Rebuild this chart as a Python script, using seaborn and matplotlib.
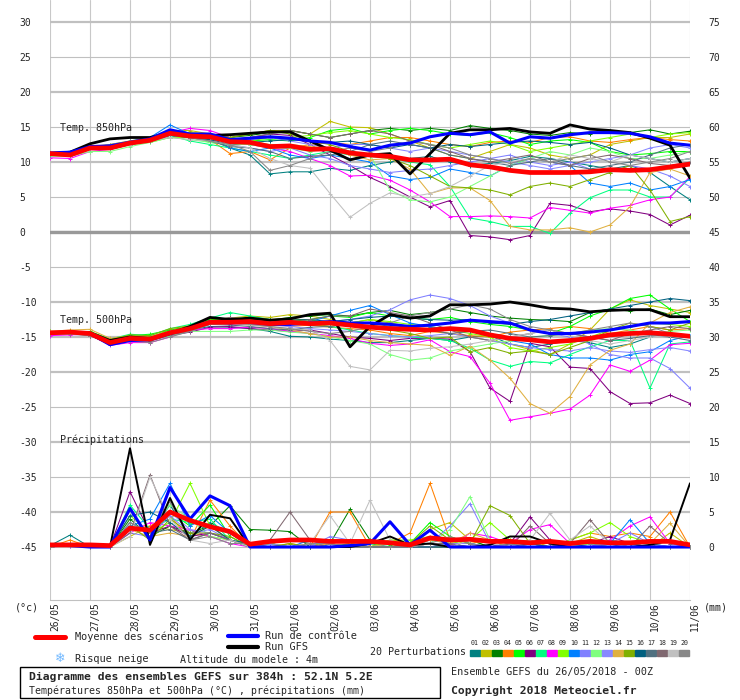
import seaborn as sns
import matplotlib.pyplot as plt
import pandas as pd
from matplotlib.lines import Line2D
from matplotlib.patches import Rectangle
from matplotlib.transforms import ScaledTranslation

# time axis: 12h steps over the 384h run
hours = list(range(0, 385, 12))
dates = ["26/05", "27/05", "28/05", "29/05", "30/05", "31/05", "01/06", "02/06", "03/06",
         "04/06", "05/06", "06/06", "07/06", "08/06", "09/06", "10/06", "11/06"]
members = ["%02d" % k for k in range(1, 21)]
pert_colors = ["#008080", "#c0c000", "#008000", "#ff8000", "#00ff00", "#800080",
               "#00ff80", "#ff00ff", "#80ff00", "#0080ff", "#8080ff", "#80ff80",
               "#8888ff", "#e0b040", "#80b000", "#006080", "#507080", "#806870",
               "#c0c0c0", "#888888"]

# ---- 850 hPa temperature (C)
mean_850 = [11.2, 11.0, 12.0, 12.0, 12.7, 13.1, 14.1, 13.7, 13.6, 12.9, 12.8,
            12.2, 12.3, 11.8, 11.9, 11.3, 11.0, 10.8, 10.3, 10.3, 10.4, 9.6,
            9.3, 8.8, 8.5, 8.5, 8.5, 8.6, 8.9, 8.8, 8.9, 9.3, 9.7]
ctrl_850 = [11.3, 11.4, 12.2, 12.3, 12.8, 13.3, 14.6, 14.0, 14.0, 13.2, 13.4,
            13.6, 13.4, 13.0, 12.8, 12.2, 11.7, 12.4, 12.7, 13.6, 14.1, 13.9,
            14.3, 12.7, 13.6, 13.4, 13.9, 14.2, 14.2, 14.1, 13.6, 12.7, 12.4]
gfs_850 = [11.2, 11.4, 12.6, 13.3, 13.5, 13.5, 14.2, 13.8, 13.8, 13.9, 14.1,
           14.3, 14.3, 13.0, 11.7, 10.3, 11.0, 11.2, 8.3, 11.2, 14.1, 14.6,
           14.6, 14.8, 14.3, 14.1, 15.3, 14.7, 14.5, 14.2, 13.4, 12.4, 7.7]
pert_850 = [
    [11.0, 10.8, 11.8, 11.8, 12.5, 13.0, 14.0, 13.5, 13.2, 12.0, 11.0, 8.3, 8.6, 8.6, 9.1, 8.8, 9.5, 10.0, 10.5, 10.8, 10.0, 9.5, 9.8, 10.2, 10.8, 10.5, 10.0, 9.5, 9.0, 9.5, 8.5, 6.5, 4.6],
    [11.3, 11.2, 12.2, 12.5, 13.0, 13.5, 14.5, 14.5, 14.0, 13.5, 14.0, 14.5, 14.5, 14.0, 15.8, 15.0, 14.9, 14.0, 13.0, 12.0, 11.0, 10.5, 11.5, 12.5, 12.0, 11.0, 10.5, 11.0, 12.5, 13.0, 13.5, 13.5, 14.0],
    [11.0, 11.2, 12.0, 12.2, 12.8, 13.2, 14.3, 14.0, 13.8, 13.5, 13.8, 14.2, 14.5, 14.0, 13.5, 14.0, 14.5, 14.8, 14.5, 14.8, 14.5, 15.2, 14.8, 14.5, 14.0, 13.8, 14.2, 14.0, 14.5, 14.2, 14.6, 14.0, 14.4],
    [11.2, 11.0, 12.0, 12.0, 12.6, 13.0, 14.0, 13.6, 13.2, 11.2, 11.5, 10.3, 12.0, 12.5, 12.8, 12.5, 13.0, 13.5, 13.5, 13.0, 12.5, 12.2, 12.8, 13.0, 12.8, 13.5, 13.6, 13.0, 12.8, 13.2, 13.5, 13.2, 13.0],
    [11.0, 11.2, 12.2, 12.0, 12.5, 13.0, 14.2, 13.5, 12.8, 12.5, 13.0, 13.2, 13.0, 13.5, 14.5, 14.8, 14.0, 14.5, 14.8, 14.5, 14.0, 13.8, 14.2, 13.5, 12.5, 13.0, 13.2, 12.8, 11.5, 11.0, 11.2, 11.5, 11.5],
    [11.0, 10.8, 11.8, 12.0, 12.5, 13.0, 13.5, 13.5, 13.5, 13.0, 13.5, 14.0, 13.8, 12.5, 11.0, 9.5, 7.8, 6.5, 5.0, 3.6, 4.5, -0.5, -0.7, -1.1, -0.5, 4.1, 3.8, 2.9, 3.3, 3.0, 2.5, 1.0, 2.4],
    [11.0, 11.0, 11.8, 11.8, 12.5, 13.0, 13.8, 13.0, 12.5, 12.0, 11.5, 11.0, 10.5, 11.0, 11.5, 11.0, 10.8, 10.5, 10.0, 9.6, 6.5, 2.0, 1.5, 0.8, 0.8, -0.2, 2.7, 4.9, 6.0, 6.0, 5.0, 5.0, 7.7],
    [10.6, 10.5, 11.5, 11.8, 12.5, 13.2, 14.2, 14.8, 14.5, 13.5, 12.5, 12.0, 11.5, 10.5, 9.5, 8.0, 8.1, 7.4, 6.0, 4.3, 2.2, 2.2, 2.3, 2.2, 2.0, 3.5, 3.1, 2.7, 3.4, 3.8, 4.6, 5.0, 7.9],
    [11.0, 11.2, 11.8, 12.0, 12.5, 12.8, 13.5, 13.5, 13.0, 12.5, 13.0, 13.5, 13.5, 13.8, 14.2, 14.5, 14.0, 13.5, 13.2, 12.5, 12.0, 12.5, 13.0, 12.5, 11.5, 12.0, 12.5, 13.0, 13.5, 14.0, 13.5, 14.0, 14.2],
    [11.0, 11.2, 12.0, 12.2, 13.0, 13.5, 15.3, 14.0, 13.5, 12.0, 11.5, 12.0, 11.0, 10.5, 11.0, 10.5, 10.0, 8.0, 7.5, 7.8, 9.0, 8.5, 8.0, 9.5, 10.5, 10.0, 9.5, 7.0, 6.5, 7.0, 6.0, 6.5, 7.5],
    [11.0, 11.0, 11.8, 12.0, 12.5, 13.0, 14.0, 13.5, 13.0, 12.5, 12.0, 11.5, 12.0, 11.0, 10.5, 9.5, 9.0, 8.5, 8.8, 9.0, 9.5, 10.0, 10.5, 11.0, 10.0, 9.5, 10.0, 9.0, 8.5, 9.5, 9.0, 8.0, 6.5],
    [10.8, 10.8, 11.5, 11.5, 12.2, 12.8, 13.5, 13.2, 12.8, 12.5, 12.5, 12.0, 12.0, 11.5, 12.0, 11.5, 11.0, 6.0, 4.6, 4.3, 5.0, 6.5, 8.0, 9.5, 10.5, 11.5, 11.0, 12.0, 11.5, 10.5, 10.5, 11.0, 11.5],
    [11.0, 11.0, 12.0, 12.0, 12.6, 13.0, 14.0, 13.8, 13.5, 13.0, 13.2, 13.5, 13.0, 12.5, 12.0, 12.5, 12.5, 12.0, 11.5, 12.0, 11.5, 11.0, 10.5, 10.0, 9.5, 9.0, 9.5, 10.0, 10.5, 11.0, 12.0, 12.5, 12.0],
    [11.2, 11.0, 12.0, 12.2, 12.8, 13.2, 14.0, 13.8, 13.5, 13.0, 13.0, 12.5, 12.5, 12.2, 12.0, 11.0, 10.3, 10.5, 9.0, 5.5, 6.3, 6.3, 4.5, 0.8, 0.3, 0.3, 0.6, 0.0, 1.0, 3.6, 8.5, 9.0, 8.0],
    [11.0, 11.2, 12.0, 12.2, 12.8, 13.2, 14.0, 14.2, 14.0, 13.5, 14.0, 14.5, 14.0, 13.0, 12.5, 11.5, 11.0, 10.5, 9.5, 8.0, 6.5, 6.3, 6.0, 5.3, 6.5, 7.0, 6.5, 7.5, 8.5, 9.5, 6.0, 1.5, 2.2],
    [11.2, 11.0, 12.0, 12.0, 12.6, 13.0, 13.8, 13.5, 13.2, 12.5, 12.8, 13.0, 13.2, 13.0, 12.8, 13.0, 12.5, 12.0, 12.5, 12.0, 12.5, 12.2, 12.5, 12.8, 13.0, 12.8, 12.5, 12.8, 12.0, 11.0, 10.5, 10.0, 10.5],
    [11.0, 11.0, 11.8, 12.0, 12.5, 13.0, 13.8, 13.5, 13.0, 12.2, 12.0, 11.5, 10.5, 10.8, 11.0, 11.5, 12.5, 13.0, 12.5, 12.0, 11.0, 10.5, 10.0, 9.5, 10.0, 10.5, 9.5, 9.0, 9.5, 10.0, 11.0, 12.0, 12.5],
    [11.2, 11.2, 12.0, 12.2, 12.8, 13.2, 14.0, 13.8, 13.5, 13.2, 13.5, 14.0, 14.5, 14.0, 13.5, 14.0, 14.5, 14.0, 13.0, 12.5, 11.5, 10.5, 10.0, 10.5, 11.0, 10.0, 9.5, 10.5, 11.0, 10.5, 9.8, 9.5, 10.0],
    [11.0, 11.0, 11.8, 12.0, 12.5, 13.0, 13.5, 13.2, 13.0, 12.5, 12.0, 10.5, 9.5, 9.1, 5.5, 2.1, 4.1, 5.6, 5.0, 5.5, 6.5, 8.0, 9.5, 10.0, 10.5, 10.0, 11.0, 10.5, 10.0, 11.0, 10.5, 10.0, 10.5],
    [11.0, 11.0, 12.0, 12.5, 13.0, 13.0, 14.0, 13.5, 13.0, 12.5, 11.5, 8.8, 9.5, 10.5, 11.5, 12.0, 11.5, 12.0, 13.0, 12.5, 12.0, 11.0, 10.5, 9.8, 10.5, 10.0, 10.5, 11.0, 10.0, 9.5, 10.0, 10.5, 11.5],
]

# ---- 500 hPa temperature (C)
mean_500 = [-14.4, -14.3, -14.5, -15.8, -15.2, -15.3, -14.4, -13.8, -12.9, -12.9, -12.8,
            -13.1, -12.9, -13.1, -13.0, -13.3, -13.6, -13.8, -13.9, -14.0, -13.8, -14.0,
            -14.7, -15.2, -15.4, -15.7, -15.5, -15.2, -14.7, -14.5, -14.4, -14.6, -14.9]
ctrl_500 = [-14.4, -14.3, -14.5, -16.1, -15.5, -15.4, -14.5, -13.8, -12.8, -13.0, -12.9,
            -13.2, -13.2, -13.0, -12.8, -13.0, -13.0, -13.2, -13.5, -13.3, -13.0, -12.6,
            -12.8, -13.0, -14.0, -14.5, -14.5, -14.3, -14.0, -13.5, -13.0, -13.0, -12.8]
gfs_500 = [-14.4, -14.3, -14.4, -15.5, -15.0, -15.2, -14.5, -13.5, -12.2, -12.5, -12.3,
           -12.6, -12.4, -11.8, -11.6, -16.4, -13.5, -11.8, -12.3, -12.0, -10.4, -10.4,
           -10.3, -10.0, -10.4, -10.9, -11.0, -11.4, -11.2, -11.1, -11.1, -12.1, -12.1]
pert_500 = [
    [-14.3, -14.2, -14.4, -15.5, -15.0, -15.0, -14.5, -14.0, -13.5, -13.6, -13.8, -14.2, -14.9, -15.0, -15.3, -15.5, -15.8, -15.8, -15.5, -15.2, -15.5, -15.0, -14.8, -16.0, -16.5, -16.0, -15.5, -15.8, -16.5, -16.0, -15.0, -14.5, -15.0],
    [-14.5, -14.2, -14.3, -15.5, -14.8, -15.0, -14.0, -13.5, -12.5, -12.3, -12.0, -12.2, -11.8, -12.0, -12.5, -13.0, -12.5, -13.0, -13.5, -14.0, -14.5, -15.0, -15.5, -16.0, -16.8, -17.5, -16.0, -14.0, -11.0, -9.7, -10.5, -11.0, -11.5],
    [-14.4, -14.3, -14.6, -15.5, -15.0, -15.2, -14.3, -13.5, -12.5, -12.3, -12.5, -12.6, -12.2, -12.0, -11.8, -12.0, -11.5, -11.2, -11.8, -11.5, -11.0, -11.5, -12.0, -12.3, -12.5, -12.6, -12.8, -11.5, -11.0, -11.3, -11.0, -11.8, -11.2],
    [-14.5, -14.4, -14.8, -16.0, -15.3, -15.4, -14.5, -13.8, -13.0, -13.0, -13.2, -13.0, -13.5, -13.3, -13.6, -13.8, -14.0, -14.5, -14.8, -14.2, -14.5, -14.8, -15.0, -14.3, -14.0, -13.8, -13.5, -13.8, -14.5, -14.0, -13.5, -14.0, -13.8],
    [-14.2, -14.3, -14.2, -15.3, -14.8, -14.6, -14.0, -13.5, -12.5, -12.6, -12.2, -12.5, -12.8, -12.5, -12.0, -12.2, -11.5, -12.0, -12.3, -12.5, -12.2, -12.8, -13.2, -13.5, -14.0, -14.5, -13.5, -12.0, -11.0, -9.5, -9.0, -11.0, -12.8],
    [-14.6, -14.5, -14.8, -16.0, -15.3, -15.5, -14.8, -14.3, -13.6, -13.5, -13.8, -14.0, -14.2, -14.0, -14.5, -15.0, -15.2, -15.5, -15.2, -15.2, -15.3, -17.1, -22.3, -24.2, -15.9, -16.4, -19.3, -19.5, -22.8, -24.5, -24.4, -23.3, -24.5],
    [-14.3, -14.2, -14.3, -15.3, -14.6, -14.8, -13.8, -13.2, -12.3, -11.5, -12.0, -12.5, -12.8, -13.0, -13.5, -14.0, -14.5, -14.8, -15.0, -15.2, -15.5, -16.6, -18.3, -19.2, -18.5, -18.7, -17.5, -16.4, -15.5, -15.5, -22.3, -16.0, -15.7],
    [-14.8, -14.7, -14.6, -16.2, -15.8, -15.8, -15.0, -14.0, -13.8, -13.8, -13.6, -13.8, -14.2, -14.5, -14.8, -15.2, -15.9, -16.2, -16.0, -15.4, -17.1, -17.8, -21.6, -26.9, -26.4, -25.9, -25.3, -23.3, -19.0, -19.9, -18.3, -16.1, -15.9],
    [-14.3, -14.2, -14.4, -15.5, -15.0, -15.0, -14.2, -13.6, -12.8, -12.8, -12.6, -12.5, -12.8, -13.2, -13.5, -13.0, -12.5, -12.8, -13.2, -13.5, -14.0, -14.5, -15.0, -16.5, -17.0, -16.5, -16.0, -15.0, -14.0, -13.5, -13.0, -13.2, -13.5],
    [-14.4, -14.4, -14.6, -16.0, -15.4, -15.3, -14.4, -13.6, -12.8, -12.7, -13.0, -13.2, -13.0, -12.8, -12.0, -11.2, -10.5, -11.8, -13.0, -13.5, -14.0, -14.2, -14.5, -15.5, -16.0, -17.5, -18.0, -18.0, -18.3, -17.5, -17.1, -15.5, -14.8],
    [-14.5, -14.4, -14.6, -15.8, -15.1, -15.2, -14.3, -13.7, -13.0, -13.0, -12.8, -13.0, -13.2, -13.0, -12.8, -12.5, -12.0, -11.1, -9.7, -9.0, -9.5, -10.5, -12.0, -13.0, -14.0, -14.5, -15.0, -16.0, -17.5, -18.0, -18.0, -19.5, -22.3],
    [-14.4, -14.3, -14.4, -15.6, -15.2, -15.5, -14.8, -14.2, -14.2, -14.2, -14.0, -14.0, -14.3, -14.5, -15.0, -15.5, -16.0, -17.5, -18.3, -18.0, -17.0, -16.5, -16.0, -15.5, -15.0, -14.8, -14.5, -14.0, -13.8, -14.0, -14.5, -14.2, -14.0],
    [-14.4, -14.3, -14.5, -15.7, -15.1, -15.2, -14.4, -13.8, -13.0, -13.1, -13.0, -13.3, -13.5, -13.8, -14.0, -14.2, -14.5, -14.8, -15.0, -14.8, -14.5, -15.0, -15.5, -16.0, -16.5, -16.8, -17.0, -16.5, -17.0, -17.2, -16.8, -16.5, -17.0],
    [-14.2, -14.0, -13.9, -15.2, -14.8, -15.0, -14.2, -13.5, -13.0, -13.0, -13.3, -13.5, -14.0, -14.5, -15.0, -15.0, -15.5, -15.8, -16.0, -16.2, -17.6, -16.3, -18.3, -20.9, -24.5, -25.9, -23.5, -19.0, -16.9, -16.0, -13.0, -11.5, -10.7],
    [-14.3, -14.2, -14.3, -15.4, -14.7, -14.8, -13.8, -13.4, -12.6, -12.5, -12.3, -12.5, -12.4, -12.6, -13.0, -13.3, -13.5, -14.0, -14.5, -15.2, -15.0, -17.1, -16.5, -17.3, -17.0, -17.5, -16.5, -15.5, -14.0, -13.0, -13.5, -14.0, -13.0],
    [-14.4, -14.3, -14.5, -15.6, -15.0, -15.1, -14.3, -13.6, -12.8, -12.7, -12.6, -12.5, -12.6, -12.5, -12.8, -12.5, -12.2, -12.0, -12.3, -12.5, -12.6, -12.5, -13.0, -13.2, -12.8, -12.5, -12.0, -11.5, -11.0, -10.5, -10.0, -9.5, -9.8],
    [-14.5, -14.4, -14.5, -15.8, -15.3, -15.4, -14.6, -14.0, -13.2, -13.3, -13.5, -13.8, -14.0, -13.6, -13.5, -13.2, -13.0, -13.5, -13.8, -14.0, -14.5, -14.2, -14.0, -14.5, -15.0, -14.8, -14.5, -15.0, -15.5, -15.2, -14.8, -15.0, -15.5],
    [-14.6, -14.5, -14.7, -16.0, -15.5, -15.6, -14.7, -14.2, -13.0, -12.2, -12.5, -12.8, -13.0, -12.5, -12.0, -12.0, -11.0, -11.5, -12.0, -13.0, -14.0, -15.0, -15.5, -15.0, -14.5, -14.0, -14.5, -15.0, -15.5, -14.5, -14.0, -13.5, -13.8],
    [-14.3, -14.3, -14.4, -15.5, -15.0, -15.1, -14.3, -13.6, -13.0, -13.0, -13.3, -13.5, -13.8, -14.0, -15.5, -19.2, -19.7, -16.9, -17.0, -16.6, -16.4, -16.0, -15.5, -15.0, -14.5, -14.0, -14.8, -15.5, -16.0, -15.5, -15.0, -14.8, -15.0],
    [-14.6, -14.6, -14.8, -16.0, -15.6, -15.8, -15.0, -14.2, -13.2, -13.0, -13.2, -13.5, -13.8, -14.2, -14.5, -14.2, -13.5, -13.0, -12.0, -11.5, -11.0, -10.4, -11.0, -12.5, -13.5, -14.0, -14.5, -14.0, -13.5, -13.0, -13.5, -14.5, -15.0],
]

# ---- precipitation (mm)
mean_rr = [0.3, 0.3, 0.3, 0.2, 2.7, 2.4, 5.0, 3.8, 2.9, 2.2, 0.4,
           0.8, 1.0, 1.0, 0.8, 0.8, 0.8, 0.6, 0.3, 1.3, 1.0, 1.1,
           0.8, 0.8, 0.6, 0.8, 0.5, 0.8, 0.6, 0.6, 0.8, 0.8, 0.3]
ctrl_rr = [0.3, 0.2, 0.0, 0.0, 5.5, 1.0, 8.5, 4.0, 7.3, 5.9, 0.0,
           0.0, 0.0, 0.0, 0.0, 0.2, 0.5, 3.6, 0.3, 2.4, 0.0, 0.0,
           0.0, 0.0, 0.0, 0.0, 0.0, 0.0, 0.0, 0.0, 0.0, 0.0, 0.0]
gfs_rr = [0.3, 0.3, 0.0, 0.0, 14.1, 0.3, 7.0, 1.0, 4.6, 4.1, 0.0,
          0.0, 0.0, 0.0, 0.0, 0.0, 0.5, 1.5, 0.3, 0.5, 0.0, 0.0,
          0.3, 1.5, 1.5, 0.5, 0.0, 0.0, 0.0, 0.0, 0.3, 1.0, 9.1]
pert_rr = [
    [0.2, 1.7, 0.0, 0.0, 3.5, 2.0, 6.0, 1.5, 3.5, 2.0, 0.0, 0.5, 1.0, 0.5, 0.0, 0.0, 0.5, 0.0, 0.0, 0.0, 0.5, 0.0, 0.0, 0.0, 0.0, 0.0, 0.0, 0.0, 0.0, 0.5, 0.0, 0.0, 0.0],
    [0.0, 0.5, 0.0, 0.0, 1.5, 3.0, 2.5, 2.0, 1.5, 1.0, 0.0, 0.0, 0.0, 0.5, 0.0, 0.0, 0.0, 1.0, 0.5, 2.5, 3.5, 1.0, 0.0, 0.5, 1.0, 0.0, 0.5, 1.5, 0.5, 0.0, 0.0, 2.0, 0.0],
    [0.0, 0.3, 0.0, 0.0, 4.0, 1.5, 3.0, 2.0, 3.0, 5.9, 2.5, 2.4, 2.2, 0.0, 0.5, 5.4, 1.0, 0.5, 0.0, 0.0, 0.0, 1.0, 0.0, 0.5, 0.0, 0.0, 0.0, 0.0, 0.5, 0.0, 0.0, 0.0, 0.0],
    [0.0, 1.0, 0.0, 0.0, 2.5, 3.0, 4.5, 1.0, 6.7, 3.0, 0.0, 0.0, 0.5, 0.0, 5.0, 5.0, 0.0, 0.5, 2.0, 9.1, 1.0, 0.5, 1.0, 1.0, 0.5, 0.0, 1.0, 2.0, 1.5, 2.0, 1.5, 5.0, 0.0],
    [0.0, 0.3, 0.0, 0.0, 5.5, 1.0, 5.0, 3.0, 6.0, 1.5, 0.0, 0.5, 0.0, 0.0, 0.0, 0.0, 0.5, 0.3, 0.5, 3.5, 1.5, 0.5, 0.0, 0.5, 0.5, 0.0, 0.0, 0.5, 0.0, 0.0, 0.0, 0.0, 0.0],
    [0.0, 0.3, 0.0, 0.0, 7.9, 2.0, 3.0, 1.5, 2.0, 1.0, 0.0, 0.0, 0.0, 0.0, 0.5, 0.0, 0.0, 0.0, 0.5, 0.5, 0.0, 0.0, 0.0, 0.5, 4.3, 1.0, 0.5, 0.5, 1.5, 0.5, 0.0, 0.0, 0.0],
    [0.0, 0.5, 0.0, 0.0, 6.0, 2.5, 4.0, 3.5, 4.0, 1.0, 0.0, 0.0, 0.0, 0.0, 0.0, 0.0, 0.0, 0.5, 0.3, 0.5, 0.0, 0.0, 0.0, 0.0, 0.0, 0.0, 0.0, 0.0, 1.0, 0.5, 0.0, 0.0, 0.0],
    [0.0, 0.2, 0.0, 0.0, 2.0, 3.5, 3.0, 2.5, 1.5, 0.5, 0.0, 0.0, 0.0, 0.0, 0.0, 0.0, 0.0, 0.0, 0.0, 0.5, 0.0, 2.0, 1.5, 0.5, 2.5, 3.2, 0.5, 0.0, 1.0, 3.0, 4.3, 0.5, 0.0],
    [0.0, 0.3, 0.0, 0.0, 4.5, 2.0, 3.5, 9.1, 3.0, 1.0, 0.0, 0.5, 0.0, 0.0, 0.0, 0.5, 0.0, 1.0, 1.0, 1.5, 0.5, 1.0, 3.5, 1.0, 0.5, 0.0, 1.0, 2.0, 3.5, 1.5, 0.5, 0.0, 0.0],
    [0.0, 0.5, 0.0, 0.0, 3.0, 4.0, 9.1, 3.0, 4.5, 2.0, 0.0, 0.0, 0.0, 1.0, 0.0, 0.0, 0.5, 0.5, 0.0, 1.0, 0.5, 0.5, 0.0, 0.0, 0.5, 0.0, 0.0, 0.0, 0.5, 3.9, 0.5, 0.0, 0.0],
    [0.0, 0.2, 0.0, 0.0, 2.0, 1.5, 4.5, 2.0, 2.5, 1.0, 0.0, 0.0, 0.0, 0.0, 1.5, 1.0, 0.0, 0.5, 0.0, 0.5, 3.0, 6.2, 0.5, 0.0, 0.0, 0.0, 0.5, 0.0, 0.5, 2.0, 0.5, 0.0, 0.0],
    [0.0, 0.3, 0.0, 0.0, 3.0, 2.5, 6.0, 4.0, 1.5, 1.0, 0.0, 0.0, 0.0, 0.0, 0.0, 0.0, 0.5, 0.5, 0.0, 0.5, 2.5, 7.2, 1.0, 0.0, 0.0, 0.0, 0.0, 0.5, 0.0, 0.0, 0.0, 0.0, 0.0],
    [0.0, 0.3, 0.0, 0.0, 3.5, 2.0, 5.0, 2.5, 2.0, 1.0, 0.0, 0.5, 0.0, 0.0, 0.0, 0.0, 0.0, 0.0, 0.0, 0.0, 0.5, 0.5, 0.0, 0.0, 0.5, 0.0, 0.0, 0.0, 0.5, 0.0, 0.0, 0.0, 0.0],
    [0.0, 0.5, 0.0, 0.0, 2.5, 1.5, 2.0, 1.5, 3.0, 1.0, 0.0, 0.0, 0.0, 0.0, 0.5, 0.0, 0.0, 0.5, 0.0, 1.0, 0.5, 2.0, 1.0, 0.0, 0.0, 0.0, 0.5, 1.0, 0.5, 0.5, 0.5, 3.4, 0.0],
    [0.0, 0.3, 0.0, 0.0, 3.0, 1.0, 4.0, 2.0, 2.0, 1.5, 0.0, 0.0, 0.5, 0.0, 0.0, 0.5, 0.0, 0.0, 0.5, 3.0, 1.0, 0.5, 5.9, 4.5, 0.5, 0.0, 0.0, 0.0, 0.0, 0.0, 0.0, 0.0, 0.0],
    [0.0, 0.3, 0.0, 0.0, 4.5, 5.0, 3.5, 1.5, 3.0, 1.0, 0.5, 0.0, 0.0, 0.0, 0.0, 0.0, 0.0, 0.0, 0.0, 0.0, 0.0, 0.0, 0.0, 0.0, 0.5, 0.0, 0.5, 0.0, 0.0, 0.5, 0.0, 0.0, 0.0],
    [0.0, 0.5, 0.0, 0.0, 3.0, 2.0, 2.5, 1.0, 2.0, 1.0, 0.0, 0.0, 0.0, 0.0, 0.0, 0.0, 0.0, 0.0, 0.0, 0.0, 0.0, 0.0, 0.0, 0.0, 0.0, 0.0, 0.0, 0.0, 0.0, 0.0, 0.0, 1.0, 0.0],
    [0.0, 0.3, 0.0, 0.0, 2.0, 10.3, 3.0, 1.0, 2.0, 1.0, 0.0, 1.0, 5.0, 1.0, 0.5, 0.0, 0.0, 0.0, 0.0, 0.5, 0.5, 0.0, 0.0, 0.0, 3.0, 0.5, 0.5, 3.9, 0.5, 0.0, 3.0, 0.5, 0.0],
    [0.0, 0.3, 0.0, 0.0, 1.5, 10.0, 4.0, 1.0, 0.5, 1.0, 0.0, 0.0, 0.0, 0.5, 4.5, 0.5, 6.7, 1.0, 0.0, 0.5, 0.0, 1.0, 0.5, 0.0, 1.0, 4.8, 1.0, 3.0, 0.5, 0.0, 0.0, 0.0, 0.0],
    [0.0, 0.3, 0.0, 0.0, 3.5, 2.0, 6.5, 1.0, 1.5, 0.5, 0.5, 0.0, 0.0, 0.5, 0.5, 0.0, 0.0, 0.0, 0.0, 0.5, 1.5, 0.5, 0.0, 0.5, 0.0, 0.0, 0.5, 0.5, 0.0, 0.0, 0.0, 0.0, 0.0],
]


def to_long(rows):
    recs = [(h, m, v) for m, vals in zip(members, rows) for h, v in zip(hours, vals)]
    return pd.DataFrame(recs, columns=["hour", "member", "value"])


W, H = 740, 700


def fx(px):
    return px / W


def fy(py):
    return 1 - py / H


sns.set_style("white")
plt.rcParams["font.family"] = ["DejaVu Sans Mono", "DejaVu Sans"]

fig = plt.figure(figsize=(7.4, 7.0), dpi=100)
ax = fig.add_axes([fx(50), fy(600), fx(690) - fx(50), 1 - fy(600)])
ax2 = ax.twinx()

# grid
for h in range(0, 385, 24):
    ax.axvline(h, color="#c8c8c8", lw=0.8, zorder=0)
for v in range(-45, 31, 5):
    thick = v % 10 == 0 or v == -15
    ax.axhline(v, color="#c0c0c0", lw=1.6 if thick else 0.8, zorder=0)
ax.axhline(0, color="#999999", lw=2.4, zorder=0.5)

# perturbations
spag = dict(x="hour", y="value", hue="member", hue_order=members, palette=pert_colors,
            estimator=None, marker="+", markersize=3.5, markeredgewidth=0.7,
            linewidth=0.75, legend=False, zorder=2)
sns.lineplot(data=to_long(pert_850), ax=ax, **spag)
sns.lineplot(data=to_long(pert_500), ax=ax, **spag)
sns.lineplot(data=to_long(pert_rr), ax=ax2, **spag)

# GFS run, control run and ensemble mean
for a, gfs, ctrl, mean, gw in [(ax, gfs_850, ctrl_850, mean_850, 2.0),
                               (ax, gfs_500, ctrl_500, mean_500, 2.0),
                               (ax2, gfs_rr, ctrl_rr, mean_rr, 1.4)]:
    sns.lineplot(x=hours, y=gfs, color="black", linewidth=gw, estimator=None, ax=a, zorder=3)
    sns.lineplot(x=hours, y=ctrl, color="#0000ff", linewidth=2.2, estimator=None, ax=a, zorder=4)
    sns.lineplot(x=hours, y=mean, color="#ff0000", linewidth=3.4, estimator=None, ax=a, zorder=5)

for ln in ax.lines + ax2.lines:
    ln.set_markeredgecolor(ln.get_color())

ax.set_xlim(0, 384)
ax.set_ylim(-45 - 53 / 7, 30 + 22 / 7)
ax2.set_ylim(-53 / 7, 75 + 22 / 7)

ax.set_xticks(range(0, 385, 24))
ax.set_xticklabels(dates, rotation=90, fontsize=6.9, ha="left")
shift = ScaledTranslation(3 / 100, 0, fig.dpi_scale_trans)
for lbl in ax.get_xticklabels():
    lbl.set_transform(lbl.get_transform() + shift)
ax.set_yticks(range(-45, 31, 5))
ax.set_yticklabels([str(v) for v in range(-45, 31, 5)], fontsize=7, ha="left")
ax2.set_yticks(range(0, 76, 5))
ax2.set_yticklabels([str(v) for v in range(0, 76, 5)], fontsize=7)
ax.tick_params(axis="x", length=0, pad=1.5)
ax.tick_params(axis="y", length=0, pad=22)
ax2.tick_params(axis="y", length=0, pad=13.5)
for a in (ax, ax2):
    a.set_xlabel("")
    a.set_ylabel("")
    for s in a.spines.values():
        s.set_visible(False)
ax.spines["bottom"].set_visible(True)
ax.spines["bottom"].set_color("#c0c0c0")

# panel labels
fig.text(fx(60), fy(128), "Temp. 850hPa", fontsize=7.2, va="center")
fig.text(fx(60), fy(320), "Temp. 500hPa", fontsize=7.2, va="center")
fig.text(fx(60), fy(440), "Précipitations", fontsize=7.2, va="center")
fig.text(fx(15), fy(607), "(°c)", fontsize=7.2, va="center")
fig.text(fx(704), fy(607), "(mm)", fontsize=7.2, va="center")

# legend
fig.add_artist(Line2D([fx(35), fx(65)], [fy(637), fy(637)], color="#ff0000", lw=3.6,
                      transform=fig.transFigure))
fig.add_artist(Line2D([fx(228), fx(258)], [fy(636), fy(636)], color="#0000ff", lw=3.0,
                      transform=fig.transFigure))
fig.add_artist(Line2D([fx(228), fx(258)], [fy(647), fy(647)], color="black", lw=3.0,
                      transform=fig.transFigure))
fig.text(fx(75), fy(637), "Moyenne des scénarios", fontsize=7.4, va="center")
fig.text(fx(265), fy(636), "Run de contrôle", fontsize=7.4, va="center")
fig.text(fx(265), fy(647), "Run GFS", fontsize=7.4, va="center")
fig.text(fx(60), fy(659), "\u2744", fontsize=9, color="#70b8ff", ha="center", va="center",
         family=["DejaVu Sans"])
fig.text(fx(75), fy(659), "Risque neige", fontsize=7.4, va="center")
fig.text(fx(180), fy(660), "Altitude du modele : 4m", fontsize=7.2, va="center")
fig.text(fx(370), fy(652), "20 Perturbations", fontsize=7.2, va="center")
for k, (m, c) in enumerate(zip(members, pert_colors)):
    x0 = 470 + 11 * k
    fig.text(fx(x0 + 5), fy(643), m, fontsize=4.8, ha="center", va="center")
    fig.add_artist(Rectangle((fx(x0), fy(656)), 10 / W, 6 / H, color=c,
                             transform=fig.transFigure))

# caption box
fig.add_artist(Rectangle((fx(20), fy(698)), 420 / W, 31 / H, fill=False, ec="black",
                         lw=1, transform=fig.transFigure))
fig.text(fx(29), fy(677), "Diagramme des ensembles GEFS sur 384h : 52.1N 5.2E",
         fontsize=8.2, fontweight="bold", va="center")
fig.text(fx(29), fy(691), "Températures 850hPa et 500hPa (°C) , précipitations (mm)",
         fontsize=7.1, va="center")
fig.text(fx(451), fy(672), "Ensemble GEFS du 26/05/2018 - 00Z", fontsize=7.3, va="center")
fig.text(fx(451), fy(691), "Copyright 2018 Meteociel.fr", fontsize=8.2, fontweight="bold",
         va="center")

fig.savefig("out.png", dpi=100)
